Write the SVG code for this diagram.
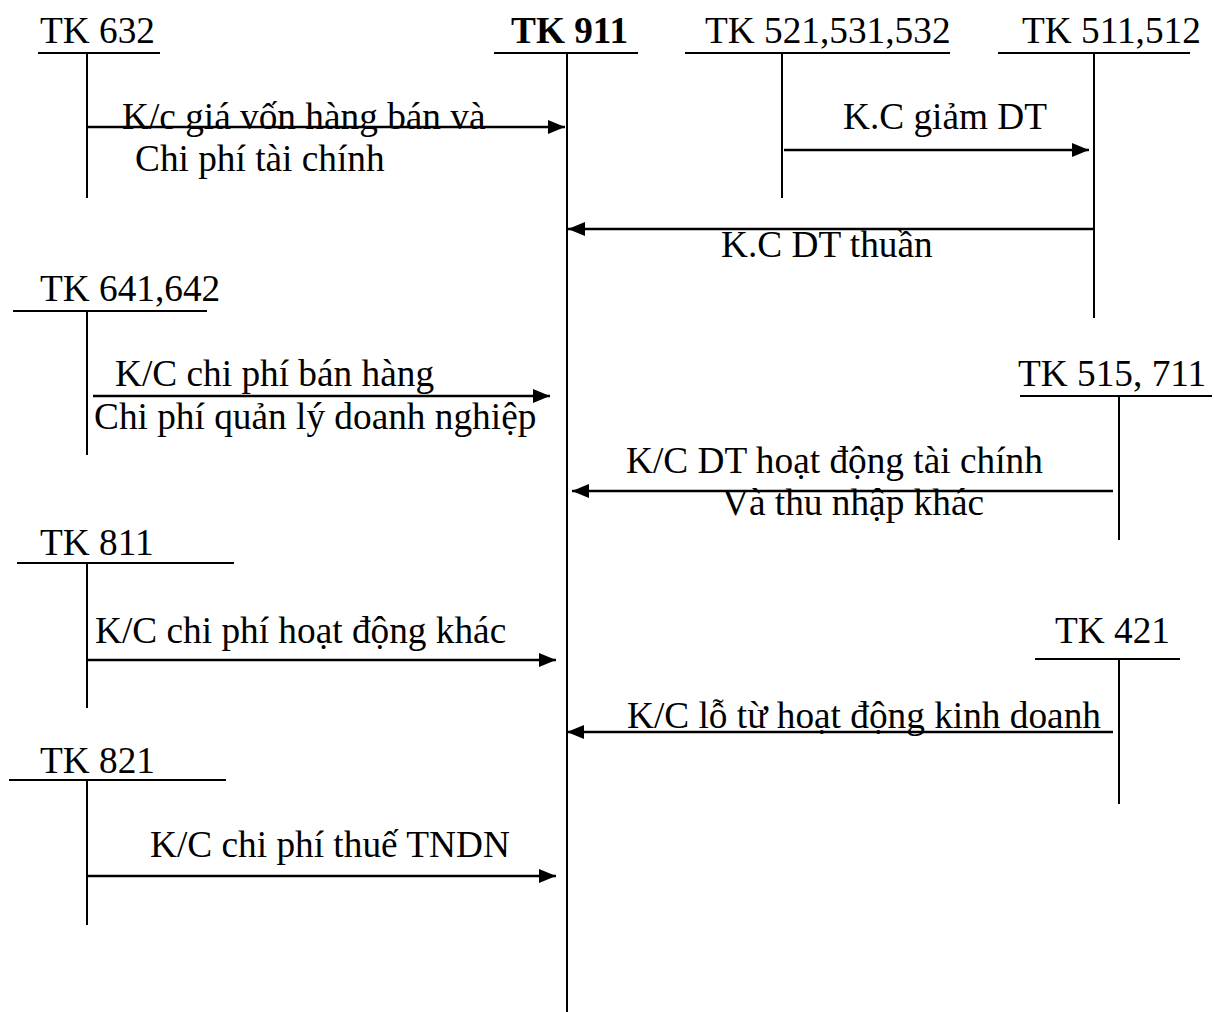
<svg xmlns="http://www.w3.org/2000/svg" width="1214" height="1012" viewBox="0 0 1214 1012">
  <style>
    text { font-family: "Liberation Serif", "Times New Roman", serif; font-size: 37.3px; fill: #000; }
    .title-bold { font-weight: bold; }
    .t-line { stroke: #000; stroke-width: 2; fill: none; }
    .flow { stroke: #000; stroke-width: 2.5; fill: none; marker-end: url(#head); }
  </style>
  <defs>
    <marker id="head" markerUnits="userSpaceOnUse" markerWidth="17" markerHeight="14" refX="17" refY="7" orient="auto">
      <path d="M0,0 L17,7 L0,14 z" fill="#000"/>
    </marker>
  </defs>
  <rect width="1214" height="1012" fill="#fff"/>

  <!-- T-accounts -->
  <g id="tk632">
    <text x="40" y="43">TK 632</text>
    <line class="t-line" x1="38" y1="53" x2="160" y2="53"/>
    <line class="t-line" x1="87" y1="53" x2="87" y2="198"/>
  </g>
  <g id="tk911">
    <text x="511" y="43" class="title-bold">TK 911</text>
    <line class="t-line" x1="494" y1="53" x2="638" y2="53"/>
    <line class="t-line" x1="567" y1="53" x2="567" y2="1012"/>
  </g>
  <g id="tk521">
    <text x="705" y="43">TK 521,531,532</text>
    <line class="t-line" x1="685" y1="53" x2="950" y2="53"/>
    <line class="t-line" x1="782" y1="53" x2="782" y2="198"/>
  </g>
  <g id="tk511">
    <text x="1022" y="43">TK 511,512</text>
    <line class="t-line" x1="998" y1="53" x2="1190" y2="53"/>
    <line class="t-line" x1="1094" y1="53" x2="1094" y2="318"/>
  </g>
  <g id="tk641">
    <text x="40" y="301">TK 641,642</text>
    <line class="t-line" x1="13" y1="311" x2="207" y2="311"/>
    <line class="t-line" x1="87" y1="311" x2="87" y2="455"/>
  </g>
  <g id="tk515">
    <text x="1018" y="386">TK 515, 711</text>
    <line class="t-line" x1="1020" y1="396" x2="1212" y2="396"/>
    <line class="t-line" x1="1119" y1="396" x2="1119" y2="540"/>
  </g>
  <g id="tk811">
    <text x="40" y="555">TK 811</text>
    <line class="t-line" x1="17" y1="563" x2="234" y2="563"/>
    <line class="t-line" x1="87" y1="563" x2="87" y2="708"/>
  </g>
  <g id="tk421">
    <text x="1055" y="643">TK 421</text>
    <line class="t-line" x1="1035" y1="659" x2="1180" y2="659"/>
    <line class="t-line" x1="1119" y1="659" x2="1119" y2="804"/>
  </g>
  <g id="tk821">
    <text x="40" y="773">TK 821</text>
    <line class="t-line" x1="9" y1="780" x2="226" y2="780"/>
    <line class="t-line" x1="87" y1="780" x2="87" y2="925"/>
  </g>

  <!-- Transfer arrows -->
  <g id="connectors">
    <line class="flow" x1="87" y1="127" x2="565" y2="127"/>
    <line class="flow" x1="784" y1="150" x2="1089" y2="150"/>
    <line class="flow" x1="1094" y1="229" x2="568" y2="229"/>
    <line class="flow" x1="93" y1="396" x2="550" y2="396"/>
    <line class="flow" x1="1113" y1="491" x2="572" y2="491"/>
    <line class="flow" x1="87" y1="660" x2="556" y2="660"/>
    <line class="flow" x1="1113" y1="732" x2="567" y2="732"/>
    <line class="flow" x1="87" y1="876" x2="556" y2="876"/>
  </g>

  <!-- Arrow labels -->
  <g id="labels">
    <text x="122" y="129">K/c giá vốn hàng bán và</text>
    <text x="135" y="171">Chi phí tài chính</text>
    <text x="843" y="129">K.C giảm DT</text>
    <text x="721" y="257">K.C DT thuần</text>
    <text x="115" y="386">K/C chi phí bán hàng</text>
    <text x="94" y="429">Chi phí quản lý doanh nghiệp</text>
    <text x="626" y="473">K/C DT hoạt động tài chính</text>
    <text x="722" y="515">Và thu nhập khác</text>
    <text x="95" y="643">K/C chi phí hoạt động khác</text>
    <text x="627" y="728">K/C lỗ từ hoạt động kinh doanh</text>
    <text x="150" y="857">K/C chi phí thuế TNDN</text>
  </g>
</svg>
